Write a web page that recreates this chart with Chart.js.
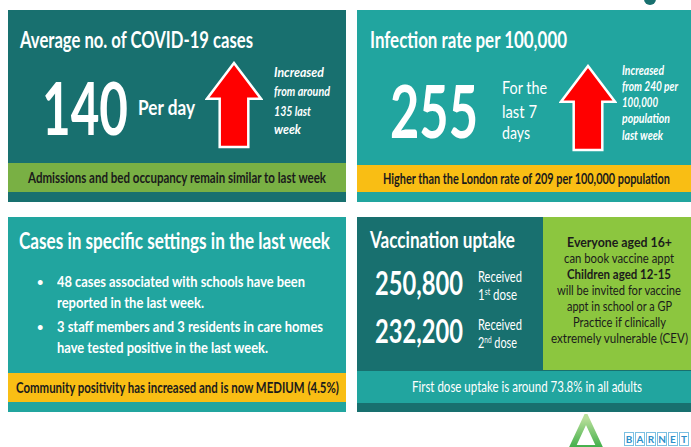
<!DOCTYPE html>
<html>
<head>
<meta charset="utf-8">
<script src="https://cdn.jsdelivr.net/npm/chart.js@4.4.1/dist/chart.umd.min.js"></script>
<style>
  html, body { margin: 0; padding: 0; background: #fff; }
  #board { position: relative; width: 691px; height: 447px; overflow: hidden; font-family: Lato, "Open Sans", sans-serif; }
  .box { position: absolute; }
  .t { position: absolute; white-space: nowrap; line-height: 1; transform-origin: 0 0; }
  .bl { display: inline-block; width: 0; height: 0; }
  .t sup { font-size: 0.6em; vertical-align: 0.55em; line-height: 0; }
  canvas.arrow { position: absolute; }
  .brand span { display: inline-block; width: 8px; height: 12px; margin-right: 1px; border: 1px solid #7cc0e2; color: #2d8fca; font: 700 10px Lato; text-align: center; line-height: 12px; }
</style>
</head>
<body>
<div id="board"></div>
<script>
// figures
const caseValues = [135, 140];        // average cases per day: last week, this week
const rateValues = [240, 255];        // infection rate per 100,000: last week, this week
const londonRate = 209;
const settingCounts = [48, 3, 3];     // school cases, care home staff, care home residents
const positivity = 4.5;               // community positivity, %
const doseLabels = ['1st', '2nd'];
const doseCounts = [250800, 232200];
const firstDoseAdultPct = 73.8;

const darkTeal = '#18706f';
const lightTeal = '#21a59f';
const green = '#79b044';
const yellow = '#f9be14';
const boxGreen = '#8cc63f';
const ink = '#1b1b1b';

const board = document.getElementById('board');

function rect(x, y, w, h, color) {
    const d = document.createElement('div');
    d.className = 'box';
    Object.assign(d.style, { left: x + 'px', top: y + 'px', width: w + 'px', height: h + 'px', background: color });
    board.appendChild(d);
}

// place text by its baseline, squeezed to the width seen on the slide
function text(html, o) {
    const el = document.createElement('div');
    el.className = 't';
    el.style.font = `${o.italic ? 'italic ' : ''}${o.weight || 700} ${o.size}px Lato`;
    el.style.lineHeight = '1';
    el.style.color = o.color || '#fff';
    el.innerHTML = html + '<span class="bl"></span>';
    board.appendChild(el);
    const natural = el.getBoundingClientRect().width;
    const baseline = el.querySelector('.bl').offsetTop;
    const sx = o.w ? o.w / natural : 1;
    const left = o.align === 'center' ? o.x - natural * sx / 2 : o.x;
    el.style.left = left + 'px';
    el.style.top = (o.b - baseline) + 'px';
    el.style.transform = `scaleX(${sx})`;
}

const fmt = n => n.toLocaleString('en-GB');

// panels
rect(8, 10, 338, 192, darkTeal);
rect(8, 163, 338, 29, green);
rect(357, 10, 334, 192, lightTeal);
rect(357, 165, 334, 27, yellow);
rect(8, 217, 338, 195, lightTeal);
rect(8, 373, 338, 29, yellow);
rect(357, 217, 334, 195, darkTeal);
rect(543, 217, 148, 153, boxGreen);
rect(357, 371, 334, 32, lightTeal);

const dot = document.createElement('div');
Object.assign(dot.style, { position: 'absolute', left: '644px', top: '-7px', width: '12px', height: '12px', borderRadius: '50%', background: darkTeal });
board.appendChild(dot);

// panel 1: average cases
text('Average no. of COVID-19 cases', { x: 20, b: 48, size: 22, w: 233 });
text(String(caseValues[1]), { x: 42, b: 135, size: 72, w: 86 });
text('Per day', { x: 138, b: 115, size: 21, w: 57 });
[['Increased', 77, 50], ['from around', 96, 56], [`${caseValues[0]} last`, 116, 37], ['week', 134, 27]].forEach(([s, b, w]) =>
    text(s, { x: 274, b, size: 14, w, italic: true }));
text('Admissions and bed occupancy remain similar to last week', { x: 28, b: 183, size: 15, w: 298, color: ink });

// panel 2: infection rate
text('Infection rate per 100,000', { x: 370, b: 48, size: 22, w: 197 });
text(String(rateValues[1]), { x: 390, b: 138, size: 73, w: 88 });
[['For the', 94, 45], ['last 7', 118, 35], ['days', 139, 28]].forEach(([s, b, w]) =>
    text(s, { x: 502, b, size: 18, w, weight: 400 }));
[['Increased', 75, 42], [`from ${rateValues[0]} per`, 91, 56], ['100,000', 107, 36], ['population', 123, 48], ['last week', 140, 41]].forEach(([s, b, w]) =>
    text(s, { x: 622, b, size: 13, w, italic: true }));
text(`Higher than the London rate of ${londonRate} per 100,000 population`, { x: 383, b: 184, size: 15, w: 287, color: ink });

// panel 3: settings
text('Cases in specific settings in the last week', { x: 19, b: 249, size: 22, w: 311 });
text('•', { x: 37, b: 286, size: 11 });
text('•', { x: 37, b: 331, size: 11 });
text(`${settingCounts[0]} cases associated with schools have been`, { x: 57, b: 287, size: 15, w: 248 });
text('reported in the last week.', { x: 57, b: 308, size: 15, w: 147 });
text(`${settingCounts[1]} staff members and ${settingCounts[2]} residents in care homes`, { x: 57, b: 332, size: 15, w: 266 });
text('have tested positive in the last week.', { x: 57, b: 353, size: 15, w: 211 });
text(`Community positivity has increased and is now MEDIUM (${positivity}%)`, { x: 16, b: 393, size: 15, w: 323, color: ink });

// panel 4: vaccination
text('Vaccination uptake', { x: 370, b: 248, size: 22, w: 145 });
doseCounts.forEach((n, i) => {
    const b = i === 0 ? 295 : 343;
    text(fmt(n), { x: 375, b, size: 33, w: 88 });
    text('Received', { x: 478, b: b - 13, size: 16, w: 44, weight: 400 });
    text(`${doseLabels[i].slice(0, -2)}<sup>${doseLabels[i].slice(-2)}</sup> dose`, { x: 478, b: b + 5, size: 16, w: 39, weight: 400 });
});
[['Everyone aged 16+', 247, 105, 700], ['can book vaccine appt', 263, 110, 400], ['Children aged 12-15', 279, 104, 700],
 ['will be invited for vaccine', 295, 124, 400], ['appt in school or a GP', 311, 105, 400],
 ['Practice if clinically', 327, 93, 400], ['extremely vulnerable (CEV)', 343, 137, 400]].forEach(([s, b, w, weight]) =>
    text(s, { x: 619, b, size: 14, w, weight, color: ink, align: 'center' }));
text(`First dose uptake is around ${firstDoseAdultPct}% in all adults`, { x: 412, b: 392, size: 15, w: 230, weight: 400 });

// logo
const svgNS = 'http://www.w3.org/2000/svg';
const svg = document.createElementNS(svgNS, 'svg');
svg.setAttribute('width', '40'); svg.setAttribute('height', '36');
Object.assign(svg.style, { position: 'absolute', left: '567px', top: '414px' });
svg.innerHTML = '<defs><linearGradient id="g" x1="0" y1="0" x2="0" y2="1"><stop offset="0" stop-color="#b9df9a"/><stop offset="1" stop-color="#3fae49"/></linearGradient></defs>' +
    '<polygon points="19,4 5,34 33,34" fill="none" stroke="url(#g)" stroke-width="6" stroke-linejoin="miter"/>';
board.appendChild(svg);
const brand = document.createElement('div');
brand.className = 'brand';
Object.assign(brand.style, { position: 'absolute', left: '624px', top: '432px', whiteSpace: 'nowrap', fontSize: '0' });
brand.innerHTML = 'BARNET'.split('').map(c => `<span>${c}</span>`).join('');
board.appendChild(brand);

// red rise arrows: one bar per panel, the change since last week, drawn as an arrow
const arrowPlugin = {
    id: 'riseArrow',
    afterDatasetsDraw(chart) {
        const bar = chart.getDatasetMeta(0).data[0];
        const { x, y, base, width } = bar.getProps(['x', 'y', 'base', 'width'], true);
        const half = (chart.chartArea.right - chart.chartArea.left) / 2;
        const dir = y < base ? 1 : -1;
        const neck = y + dir * half * 1.32;
        const ctx = chart.ctx;
        ctx.save();
        ctx.beginPath();
        ctx.moveTo(x - width / 2, base);
        ctx.lineTo(x - width / 2, neck);
        ctx.lineTo(x - half, neck);
        ctx.lineTo(x, y);
        ctx.lineTo(x + half, neck);
        ctx.lineTo(x + width / 2, neck);
        ctx.lineTo(x + width / 2, base);
        ctx.closePath();
        ctx.fillStyle = '#ff0000';
        ctx.fill();
        ctx.lineWidth = 2.5;
        ctx.strokeStyle = '#ffffff';
        ctx.stroke();
        ctx.restore();
    }
};

function riseArrow(values, left, top) {
    const cv = document.createElement('canvas');
    cv.className = 'arrow';
    cv.width = 58; cv.height = 88;
    Object.assign(cv.style, { left: left + 'px', top: top + 'px', width: '58px', height: '88px' });
    board.appendChild(cv);
    const change = values[1] - values[0];
    new Chart(cv, {
        type: 'bar',
        data: {
            labels: ['change'],
            datasets: [{ data: [change], backgroundColor: 'rgba(0,0,0,0)', barPercentage: 0.53, categoryPercentage: 1 }]
        },
        options: {
            responsive: false,
            animation: false,
            layout: { padding: 2 },
            plugins: { legend: { display: false }, tooltip: { enabled: false } },
            scales: {
                x: { display: false },
                y: { display: false, min: 0, max: Math.abs(change) }
            }
        },
        plugins: [arrowPlugin]
    });
}

riseArrow(caseValues, 205, 61);
riseArrow(rateValues, 559, 64);
</script>
</body>
</html>
